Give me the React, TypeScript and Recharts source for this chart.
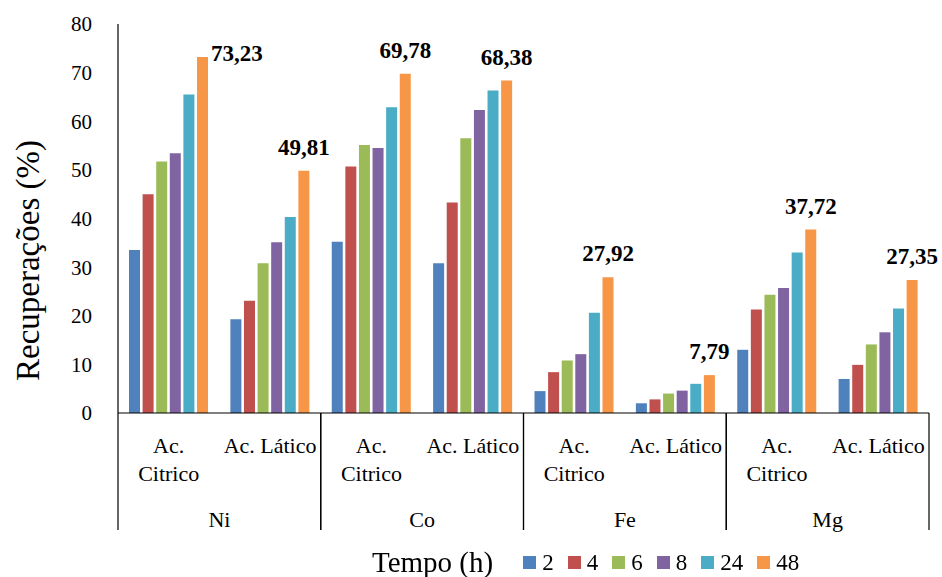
import { Bar, BarChart, LabelList, Legend, XAxis, YAxis, Label } from "recharts"

const groups = ["Ni", "Co", "Fe", "Mg"]
const acids = ["Ac. Citrico", "Ac. Lático"]
const hours = ["2", "4", "6", "8", "24", "48"]
const colors = ["#4F81BD", "#C0504D", "#9BBB59", "#8064A2", "#4BACC6", "#F79646"]

const h2 = [33.5, 19.3, 35.2, 30.8, 4.5, 2.0, 13.0, 7.0]
const h4 = [45.0, 23.1, 50.7, 43.3, 8.4, 2.8, 21.3, 9.9]
const h6 = [51.7, 30.8, 55.1, 56.5, 10.8, 4.0, 24.3, 14.1]
const h8 = [53.4, 35.1, 54.5, 62.3, 12.1, 4.6, 25.7, 16.6]
const h24 = [65.5, 40.3, 62.9, 66.3, 20.6, 6.0, 33.0, 21.5]
const h48 = [73.23, 49.81, 69.78, 68.38, 27.92, 7.79, 37.72, 27.35]
const yTicks = [0, 10, 20, 30, 40, 50, 60, 70, 80]

const seriesValues = [h2, h4, h6, h8, h24, h48]

const rows = groups.flatMap((g, gi) =>
  acids.map((a, ai) => {
    const i = gi * acids.length + ai
    const row: Record<string, any> = { key: i, group: g, acid: a }
    hours.forEach((_, hi) => {
      row["s" + hi] = seriesValues[hi][i]
    })
    return row
  })
)

const serif = "'Liberation Serif', 'Times New Roman', serif"

function CategoryTick(props: any) {
  const { x, y, index, payload } = props
  const half = payload?.offset ?? 811 / 16
  const row = rows[index]
  if (!row) return null
  const label: string = row.acid
  const sp = label.indexOf(" ")
  const lines = label.length > 10 ? [label.slice(0, sp), label.slice(sp + 1)] : [label]
  const firstInGroup = index % acids.length === 0
  const lastInGroup = index % acids.length === acids.length - 1
  return (
    <g>
      {lines.map((l, li) => (
        <text
          key={li}
          x={x}
          y={y + 40 + li * 28}
          textAnchor="middle"
          fontFamily={serif}
          fontSize={22}
          fill="#000"
        >
          {l}
        </text>
      ))}
      {firstInGroup && (
        <>
          <line x1={x - half} x2={x - half} y1={y} y2={y + 117} stroke="#000" strokeWidth={1.2} />
          <text x={x + half} y={y + 114} textAnchor="middle" fontFamily={serif} fontSize={22} fill="#000">
            {row.group}
          </text>
        </>
      )}
      {lastInGroup && <line x1={x + half} x2={x + half} y1={y} y2={y + 117} stroke="#000" strokeWidth={1.2} />}
    </g>
  )
}

function TopLabel(props: any) {
  const { x, y, width, value } = props
  const text = Number(value).toFixed(2).replace(".", ",")
  const cx = x + width / 2
  if (y - 36 < 24) {
    return (
      <text x={x + width + 3} y={y + 4} fontFamily={serif} fontWeight="bold" fontSize={23} fill="#000">
        {text}
      </text>
    )
  }
  return (
    <text x={cx} y={y - 16} textAnchor="middle" fontFamily={serif} fontWeight="bold" fontSize={23} fill="#000">
      {text}
    </text>
  )
}

function LegendContent(props: any) {
  const payload = [...(props.payload || [])].sort(
    (a: any, b: any) => hours.indexOf(String(a.value)) - hours.indexOf(String(b.value))
  )
  return (
    <div style={{ display: "flex", alignItems: "center", fontFamily: serif, color: "#000", paddingTop: 14 }}>
      <span style={{ fontSize: 29, marginRight: 30 }}>Tempo (h)</span>
      {payload.map((p: any, i: number) => (
        <span key={i} style={{ display: "flex", alignItems: "center", marginRight: 14 }}>
          <span style={{ width: 13, height: 13, background: p.color, display: "inline-block", marginRight: 6 }} />
          <span style={{ fontSize: 23 }}>{p.value}</span>
        </span>
      ))}
    </div>
  )
}

function YLabel(props: any) {
  const { viewBox } = props
  const cx = viewBox.x + 28
  const cy = viewBox.y + viewBox.height / 2 + 42
  return (
    <text
      x={cx}
      y={cy}
      transform={`rotate(-90, ${cx}, ${cy})`}
      textAnchor="middle"
      dominantBaseline="central"
      fontFamily={serif}
      fontSize={33}
      fill="#000"
    >
      Recuperações (%)
    </text>
  )
}

export default function App() {
  return (
    <div style={{ position: "fixed", left: 0, top: 0, background: "#fff" }}>
      <BarChart
        width={942}
        height={577}
        data={rows}
        margin={{ top: 24, right: 13, left: 0, bottom: 0 }}
        barCategoryGap={11}
        barGap={2.6}
      >
        <XAxis
          dataKey="key"
          interval={0}
          tickLine={false}
          tickSize={0}
          tickMargin={0}
          height={119}
          axisLine={{ stroke: "#000", strokeWidth: 1.2 }}
          tick={<CategoryTick />}
        />
        <YAxis
          domain={[0, 80]}
          ticks={yTicks}
          width={118}
          tickLine={false}
          tickSize={0}
          tickMargin={26}
          axisLine={{ stroke: "#000", strokeWidth: 1.2 }}
          tick={{ fontFamily: serif, fontSize: 21, fill: "#000" }}
        >
          <Label content={<YLabel />} />
        </YAxis>
        <Legend
          verticalAlign="bottom"
          height={45}
          wrapperStyle={{ left: 372, bottom: 0, width: 560 }}
          content={<LegendContent />}
        />
        {hours.map((h, hi) => (
          <Bar
            key={"bar-" + hi}
            dataKey={"s" + hi}
            name={h}
            stackId={"g" + hi}
            fill={colors[hi]}
            isAnimationActive={false}
          >
            {hi === hours.length - 1 && <LabelList dataKey={"s" + hi} content={<TopLabel />} />}
          </Bar>
        ))}
      </BarChart>
    </div>
  )
}
